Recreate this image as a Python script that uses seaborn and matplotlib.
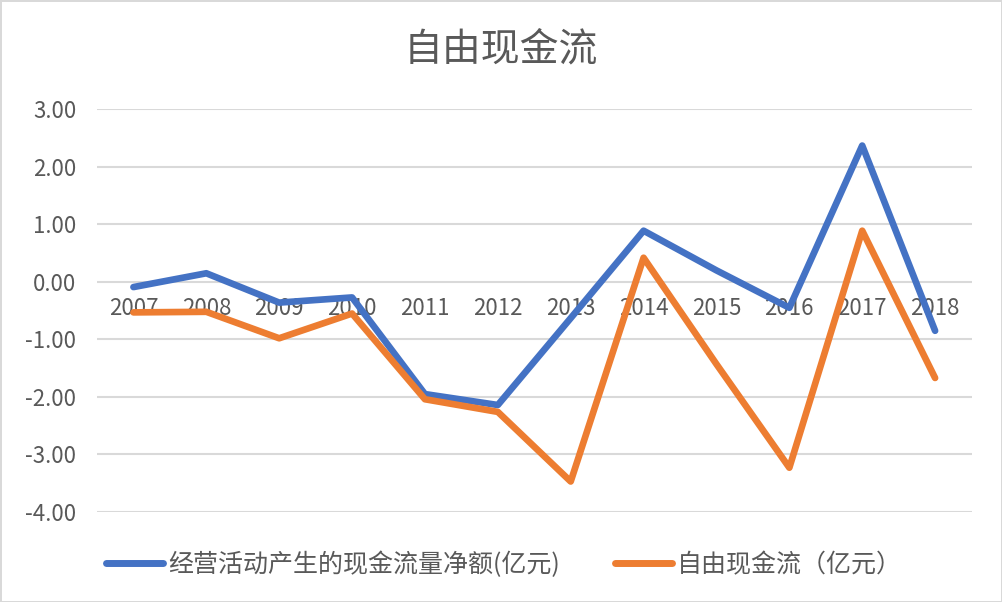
import numpy as np
import pandas as pd
import matplotlib
matplotlib.use("Agg")
import matplotlib.pyplot as plt
import seaborn as sns

# 数据（从图上读取，单位：亿元）
years = ["2007", "2008", "2009", "2010", "2011", "2012",
         "2013", "2014", "2015", "2016", "2017", "2018"]
operating_cf = [-0.09, 0.15, -0.36, -0.27, -1.95, -2.14,
                -0.63, 0.89, 0.20, -0.45, 2.37, -0.85]
free_cf = [-0.53, -0.52, -0.98, -0.55, -2.04, -2.26,
           -3.47, 0.42, -1.43, -3.23, 0.89, -1.67]

label_op = "经营活动产生的现金流量净额(亿元)"
label_free = "自由现金流（亿元）"
title = "自由现金流"
y_ticks = [3, 2, 1, 0, -1, -2, -3, -4]

df = pd.DataFrame({
    "year": years * 2,
    "value": operating_cf + free_cf,
    "series": [label_op] * len(years) + [label_free] * len(years),
})

sns.set_theme(style="white")
plt.rcParams['font.family'] = ['Noto Sans CJK SC', 'DejaVu Sans']

grey_text = "#595959"
palette = {label_op: "#4472C4", label_free: "#ED7D31"}

fig = plt.figure(figsize=(10.02, 6.02), dpi=100)
fig.patch.set_edgecolor("#d9d9d9")
fig.patch.set_linewidth(2)
ax = fig.add_axes([0.0968, 0.1495, 0.8728, 0.6689])

sns.lineplot(data=df, x="year", y="value", hue="series", palette=palette,
             linewidth=4.8, ax=ax, legend=True, sort=False, zorder=3)

ax.set_xlim(-0.5, len(years) - 0.5)
ax.set_ylim(-4, 3)
ax.set_yticks(y_ticks)
ax.set_yticklabels([f"{v:.2f}" for v in y_ticks])
ax.yaxis.grid(True, color="#d9d9d9", linewidth=1.5)
ax.set_axisbelow(True)
for s in ["top", "right", "left"]:
    ax.spines[s].set_visible(False)
ax.spines["bottom"].set_position(("data", 0))
ax.spines["bottom"].set_visible(False)
ax.tick_params(axis="x", length=0, pad=11, labelsize=16, labelcolor=grey_text)
ax.tick_params(axis="y", length=0, pad=15, labelsize=16, labelcolor=grey_text)
ax.set_xlabel("")
ax.set_ylabel("")

fig.text(0.5, 0.918, title, ha="center", va="center", fontsize=28, color=grey_text)

handles, labels = ax.get_legend_handles_labels()
for h in handles:
    h.set_linewidth(5)
ax.legend(handles, labels, loc="center", bbox_to_anchor=(0.503, 0.0615),
          bbox_transform=fig.transFigure, ncol=2, frameon=False,
          fontsize=18, labelcolor=grey_text, handlelength=2.3,
          handletextpad=0.2, columnspacing=2.2)

fig.savefig("out.png", dpi=100)
